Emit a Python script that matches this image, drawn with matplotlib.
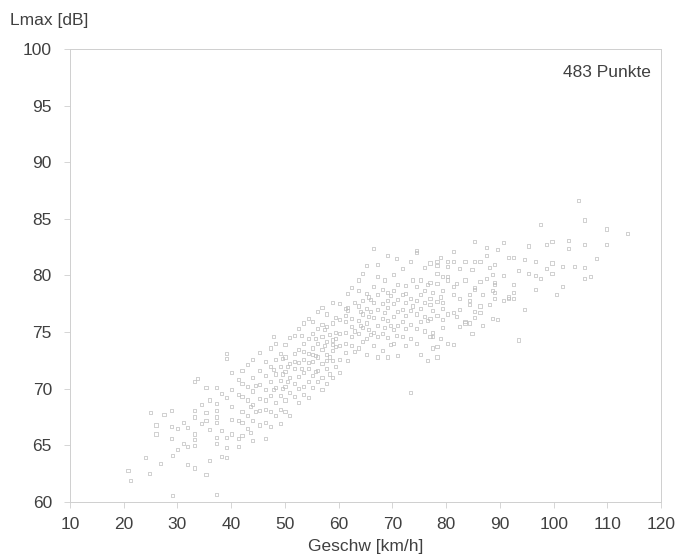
import matplotlib
matplotlib.use("Agg")
import matplotlib.pyplot as plt

# Speed columns [km/h] and the Lmax readings [dB] measured at each speed
col_speed = [
    20.8, 21.3, 24.0, 24.8, 25.0, 26.0, 26.9, 27.5, 28.9, 29.1,
    30.0, 31.2, 31.9, 33.1, 33.8, 34.5, 35.3, 35.9, 37.2, 38.2, 39.1,
    40.0, 41.3, 42.0, 43.1, 43.6, 44.0, 44.6, 45.2, 46.4, 47.3, 47.8, 48.2, 49.1, 49.6,
    50.0, 50.4, 50.8, 51.7, 52.5, 53.0, 53.4, 54.4, 55.2, 55.7, 56.1, 56.9, 57.3, 57.8,
    58.3, 58.8, 59.4,
    60.1, 61.2, 61.6, 62.4, 62.9, 63.7, 64.0, 64.5, 65.1, 65.6, 66.0, 66.5, 67.2, 68.1,
    68.6, 69.1, 69.6,
    70.2, 70.7, 71.0, 71.8, 72.5, 73.3, 73.8, 74.4, 75.2, 76.0, 76.6, 77.0, 77.5, 78.3,
    79.0, 79.4,
    80.2, 81.3, 82.0, 82.5, 83.5, 84.3, 84.8, 85.2, 86.3, 86.8, 87.5, 88.0, 88.6, 89.0,
    89.6,
    90.7, 91.6, 92.5, 93.5, 94.5, 95.4, 96.7, 97.6, 98.7, 99.7,
    100.6, 101.7, 102.7, 103.8, 104.7, 105.8, 106.8, 107.9, 109.8, 113.8,
]

col_lmax = [
    [62.8], [61.9], [63.9], [62.5], [67.9], [66.8, 66.0], [63.4], [67.7],
    [66.7, 65.6, 68.1], [64.1, 60.6],
    [66.5, 64.6], [67.0, 65.2], [66.6, 64.9, 63.3],
    [68.1, 67.5, 66.0, 65.5, 65.0, 63.0, 70.6], [70.9], [66.9, 68.6],
    [70.1, 67.9, 67.2, 62.4], [66.4, 63.7, 69.0],
    [70.1, 68.7, 68.1, 67.5, 67.0, 65.7, 65.2, 60.7], [69.6, 66.3, 64.0],
    [73.1, 72.7, 69.2, 65.7, 64.8, 63.9],
    [71.4, 69.9, 66.0, 68.4, 67.3], [67.2, 65.6, 64.9, 69.5, 70.8],
    [70.5, 69.3, 68.0, 67.0, 65.9, 71.6], [69.0, 67.6, 66.5, 70.2, 72.1], [68.4, 66.1],
    [68.6, 67.2, 71.0, 69.8, 65.4, 72.6], [70.3, 68.0],
    [70.4, 69.1, 68.1, 66.8, 71.6, 73.2], [69.9, 69.0, 68.2, 67.0, 71.2, 72.4, 65.6],
    [70.6, 69.4, 68.0, 72.0, 73.6, 66.7], [71.7, 69.9, 74.6],
    [71.3, 70.1, 68.8, 67.6, 72.6, 74.0], [72.0, 70.7, 69.4, 68.2, 73.1, 66.9],
    [71.3, 72.7, 70.0],
    [72.8, 71.5, 70.2, 69.0, 73.9, 68.0], [70.6, 72.0], [72.2, 71.0, 69.7, 74.5, 67.6],
    [73.1, 71.8, 70.5, 69.3, 74.7, 72.4], [73.5, 72.3, 71.1, 70.0, 75.3, 68.8],
    [74.7, 71.8], [74.0, 72.6, 71.4, 70.2, 75.8, 73.3, 69.5],
    [72.3, 74.4, 73.1, 71.8, 70.6, 76.2, 69.2], [74.9, 73.6, 72.4, 71.2, 75.9, 70.1, 73.0],
    [72.9, 74.4, 71.5], [75.3, 74.0, 72.8, 71.6, 76.8, 70.6],
    [74.6, 73.5, 72.2, 71.0, 69.9, 75.7, 77.2], [73.8, 75.2],
    [75.5, 74.2, 73.0, 71.8, 70.5, 76.6, 72.5], [74.8, 72.8, 71.3],
    [74.3, 73.4, 72.5, 71.0, 75.8, 77.6, 73.9], [75.0, 73.7, 72.0, 76.3, 74.4],
    [76.1, 74.9, 73.8, 72.6, 77.5, 71.4], [77.1, 75.9, 75.0, 74.0, 76.5, 73.2],
    [77.2, 76.9, 78.4, 72.5], [75.5, 74.6, 76.2, 73.8, 78.9], [77.6, 75.1, 73.3],
    [78.7, 77.3, 76.0, 74.9, 73.6, 79.6], [76.8, 75.6], [77.8, 76.6, 75.4, 74.2, 80.2],
    [80.9, 78.4, 77.1, 75.8, 74.4, 73.0], [78.1, 76.4, 75.2], [77.9, 76.8, 74.8],
    [82.4, 79.0, 77.6, 76.3, 75.0, 73.8], [79.9, 78.3, 77.0, 75.6, 74.6, 72.8, 81.0],
    [78.8, 77.5, 76.2, 74.9, 73.4], [79.6, 76.7, 75.4],
    [81.8, 78.5, 77.8, 77.2, 76.0, 74.5, 72.8], [78.2, 75.6, 73.9],
    [78.7, 77.5, 76.4, 75.2, 74.0, 80.1], [81.5, 74.7], [79.2, 77.9, 76.8, 75.6, 72.9],
    [78.3, 77.0, 75.9, 74.6, 80.6], [79.1, 78.4, 77.6, 76.5, 75.3, 73.8],
    [78.0, 76.9, 75.7, 74.4, 69.7, 81.2], [79.6, 77.3],
    [82.2, 82.0, 79.0, 77.8, 76.6, 75.3, 74.0], [79.6, 78.3, 77.1, 75.9, 73.0],
    [78.7, 77.6, 76.4, 75.1, 80.7], [79.2, 76.0, 72.5],
    [81.1, 79.4, 78.0, 77.4, 76.2, 74.6], [78.5, 76.9, 75.0, 74.6, 73.6],
    [81.2, 80.9, 80.2, 79.3, 77.7, 76.5, 73.7, 72.8], [78.1, 74.4, 81.6],
    [79.9, 78.7, 77.6, 77.1, 76.1, 75.4],
    [81.2, 80.8, 79.9, 79.6, 76.6, 74.0], [82.1, 81.2, 79.0, 78.3, 76.7, 73.9],
    [79.3, 76.4], [80.6, 78.0, 77.0, 75.5], [81.2, 79.6, 75.8, 75.9],
    [78.3, 77.8, 77.4, 75.8], [80.5, 74.9], [83.0, 81.2, 78.8, 78.9, 76.8, 76.3],
    [81.2, 77.3, 76.7, 79.5], [78.3, 75.6], [82.5, 81.8, 79.7], [80.7, 77.4],
    [80.1, 78.7, 76.2], [79.4, 79.2, 78.5, 78.0, 81.0], [76.1, 82.3],
    [82.9, 80.0, 77.8], [81.6, 78.0, 78.1], [81.6, 78.5, 78.0, 79.2], [80.4, 74.3],
    [81.4, 77.0], [80.2, 82.6], [81.2, 80.0, 78.8], [84.5, 79.7], [82.7, 80.6],
    [81.1, 80.2, 83.0],
    [78.3], [80.8, 79.0], [83.1, 82.4], [80.8], [86.6], [84.9, 82.7, 80.7, 79.7],
    [79.9], [81.5], [84.1, 82.7], [83.7],
]

geschw = [v for v, ls in zip(col_speed, col_lmax) for _ in ls]
lmax = [l for ls in col_lmax for l in ls]

x_ticks = [10, 20, 30, 40, 50, 60, 70, 80, 90, 100, 110, 120]
y_ticks = [60, 65, 70, 75, 80, 85, 90, 95, 100]
n_label = "483 Punkte"

plt.rcParams["font.family"] = ["Liberation Sans", "DejaVu Sans"]
txt = "#404040"
line = "#cfcfcf"

fig = plt.figure(figsize=(6.93, 5.6), dpi=100)
ax = fig.add_axes([0.101, 0.1036, 0.853, 0.809])

ax.scatter(geschw, lmax, marker="s", s=5, facecolors="none",
           edgecolors="#bdbdbd", linewidths=0.5)

ax.set_xlim(10, 120)
ax.set_ylim(60, 100)
ax.set_xticks(x_ticks)
ax.set_yticks(y_ticks)
ax.tick_params(direction="out", length=4, width=0.6, color=line,
               labelsize=12.5, labelcolor=txt)
ax.tick_params(axis="y", pad=9)
ax.tick_params(axis="x", pad=7)
for sp in ax.spines.values():
    sp.set_color(line)
    sp.set_linewidth(0.7)

ax.set_xlabel("Geschw [km/h]", fontsize=12.5, color=txt, labelpad=5)
fig.text(0.0144, 0.963, "Lmax [dB]", fontsize=12.5, color=txt, ha="left", va="center")
ax.text(0.983, 0.947, n_label, transform=ax.transAxes,
        ha="right", va="center", fontsize=12.5, color=txt)

fig.savefig("out.png", dpi=100, facecolor="white")
